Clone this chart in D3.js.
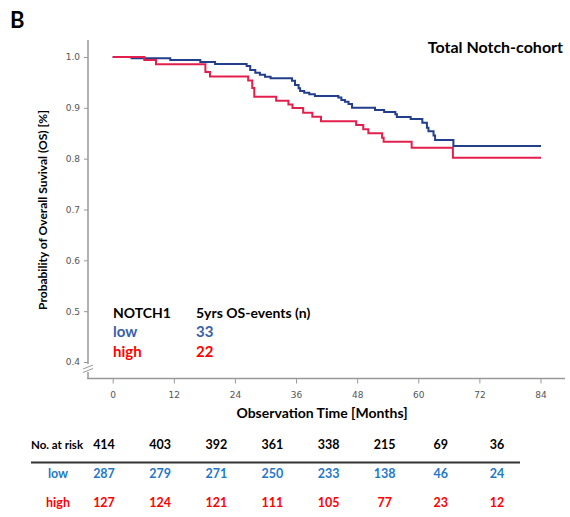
<!DOCTYPE html>
<meta charset="utf-8">
<title>Total Notch-cohort OS</title>
<style>
body { margin: 0; background: #fff; }
.tick text { font: 9px "DejaVu Sans", sans-serif; fill: #555; }
.lbl { font-family: Lato, "Open Sans", sans-serif; font-weight: bold; }
</style>
<body>
<script src="https://d3js.org/d3.v7.min.js"></script>
<script>

// Kaplan-Meier steps: [month, survival]
var lowSteps = [[0,1],[3.7,0.9974],[11.3,0.9941],[17.2,0.9902],[20.1,0.9862],[26.3,0.9823],
  [27.0,0.9744],[28.0,0.9691],[28.9,0.9652],[29.9,0.9613],[31.0,0.9581],[35.2,0.9534],
  [35.8,0.9449],[36.5,0.9384],[36.8,0.9331],[37.6,0.9298],[38.6,0.9266],[39.7,0.9233],
  [44.3,0.9204],[44.9,0.9154],[45.6,0.9121],[46.3,0.9076],[47.0,0.9003],[51.5,0.8958],
  [53.3,0.8918],[55.5,0.8873],[55.8,0.8820],[58.5,0.8781],[60.8,0.8708],[61.7,0.8610],
  [62.0,0.8541],[63.0,0.8456],[63.3,0.8368],[66.9,0.8250],[84.1,0.8250]];
var highSteps = [[0,1],[6.2,0.9941],[8.5,0.9856],[18.2,0.9705],[19.1,0.9617],[26.6,0.9538],
  [27.4,0.9390],[27.8,0.9219],[32.1,0.9141],[34.5,0.9066],[35.3,0.8997],[37.4,0.8905],
  [39.2,0.8826],[40.9,0.8737],[47.8,0.8663],[49.2,0.8578],[50.2,0.8500],[52.9,0.8410],
  [53.2,0.8334],[58.7,0.8216],[66.8,0.8020],[84.1,0.8020]];

var xTicks = [0, 12, 24, 36, 48, 60, 72, 84];
var yTicks = [0.4, 0.5, 0.6, 0.7, 0.8, 0.9, 1.0];

var riskTotal = [414, 403, 392, 361, 338, 215, 69, 36];
var riskLow = [287, 279, 271, 250, 233, 138, 46, 24];
var riskHigh = [127, 124, 121, 111, 105, 77, 23, 12];

var groups = ["low", "high"];
var events5y = [33, 22];

var blue = "#233e8b", red = "#e3204d";
var legendColor = ["#3a60a8", "#ff0000"];
var tableColor = ["#1f78c8", "#ff0000"];

var svg = d3.select("body").append("svg")
    .attr("width", 570)
    .attr("height", 517);

var x = d3.scaleLinear().domain([0, 84]).range([112.7, 540.5]);
var y = d3.scaleLinear().domain([0.4, 1.0]).range([362, 57]);

// panel letter and title
svg.append("text").attr("class", "lbl").attr("x", 10).attr("y", 28)
    .style("font-size", "22px").text("B");
svg.append("text").attr("class", "lbl").attr("x", 563).attr("y", 53)
    .style("font-size", "16px").style("text-anchor", "end").text("Total Notch-cohort");

// y axis
var yAxis = svg.append("g")
    .attr("transform", "translate(88,0)")
    .call(d3.axisLeft(y).tickValues(yTicks).tickFormat(d3.format(".1f")).tickSize(4).tickPadding(4));
yAxis.select(".domain").remove();
yAxis.selectAll(".tick line").attr("stroke", "#999");
svg.append("line").attr("x1", 88).attr("x2", 88).attr("y1", 40).attr("y2", 364)
    .attr("stroke", "#999").attr("stroke-width", 1.5);
svg.append("line").attr("x1", 88).attr("x2", 88).attr("y1", 372).attr("y2", 379)
    .attr("stroke", "#999").attr("stroke-width", 1.5);
// axis break marks
[0, 3.5].forEach(function(o) {
  svg.append("line").attr("x1", 83).attr("x2", 93).attr("y1", 369 + o).attr("y2", 365 + o)
      .attr("stroke", "#999").attr("stroke-width", 1);
});

// x axis
var xAxis = svg.append("g")
    .attr("transform", "translate(0,378.5)")
    .call(d3.axisBottom(x).tickValues(xTicks).tickSize(5).tickPadding(8));
xAxis.select(".domain").remove();
xAxis.selectAll(".tick line").attr("stroke", "#999");
svg.append("line").attr("x1", 87.3).attr("x2", 565).attr("y1", 378.5).attr("y2", 378.5)
    .attr("stroke", "#999").attr("stroke-width", 1.5);

svg.append("text").attr("class", "lbl").attr("x", 322).attr("y", 418)
    .style("font-size", "14px").style("text-anchor", "middle").text("Observation Time [Months]");
svg.append("text").attr("class", "lbl")
    .attr("transform", "translate(47,210) rotate(-90)")
    .style("font-size", "12px").style("text-anchor", "middle")
    .text("Probability of Overall Suvival (OS) [%]");

// survival curves
var line = d3.line().x(function(d) { return x(d[0]); }).y(function(d) { return y(d[1]); })
    .curve(d3.curveStepAfter);
svg.append("path").datum(lowSteps).attr("d", line)
    .attr("fill", "none").attr("stroke", blue).attr("stroke-width", 2);
svg.append("path").datum(highSteps).attr("d", line)
    .attr("fill", "none").attr("stroke", red).attr("stroke-width", 2);

// legend
svg.append("text").attr("class", "lbl").attr("x", 113).attr("y", 318)
    .style("font-size", "14px").text("NOTCH1");
svg.append("text").attr("class", "lbl").attr("x", 196).attr("y", 318)
    .style("font-size", "14px").text("5yrs OS-events (n)");
groups.forEach(function(g, i) {
  svg.append("text").attr("class", "lbl").attr("x", 113).attr("y", 337 + i * 20)
      .style("font-size", "15px").attr("fill", legendColor[i]).text(g);
  svg.append("text").attr("class", "lbl").attr("x", 196).attr("y", 337 + i * 20)
      .style("font-size", "15px").attr("fill", legendColor[i]).text(events5y[i]);
});

// number at risk table
var col = d3.scalePoint().domain(xTicks).range([104, 497]);
svg.append("text").attr("class", "lbl").attr("x", 31).attr("y", 449)
    .style("font-size", "11.5px").text("No. at risk");
svg.append("line").attr("x1", 31).attr("x2", 520).attr("y1", 462.5).attr("y2", 462.5)
    .attr("stroke", "#333").attr("stroke-width", 2);

var rows = [
  {vals: riskTotal, y: 449, color: "#000"},
  {vals: riskLow, y: 478, color: tableColor[0], name: "low"},
  {vals: riskHigh, y: 507, color: tableColor[1], name: "high"}
];
rows.forEach(function(r) {
  svg.append("g").selectAll("text")
      .data(r.vals)
    .enter().append("text")
      .attr("class", "lbl")
      .attr("x", function(d, i) { return col(xTicks[i]); })
      .attr("y", r.y)
      .style("font-size", "12.5px")
      .style("text-anchor", "middle")
      .attr("fill", r.color)
      .text(function(d) { return d; });
  if (r.name) {
    svg.append("text").attr("class", "lbl").attr("x", 58).attr("y", r.y)
        .style("font-size", "12.5px").style("text-anchor", "middle")
        .attr("fill", r.color).text(r.name);
  }
});

</script>
</body>
